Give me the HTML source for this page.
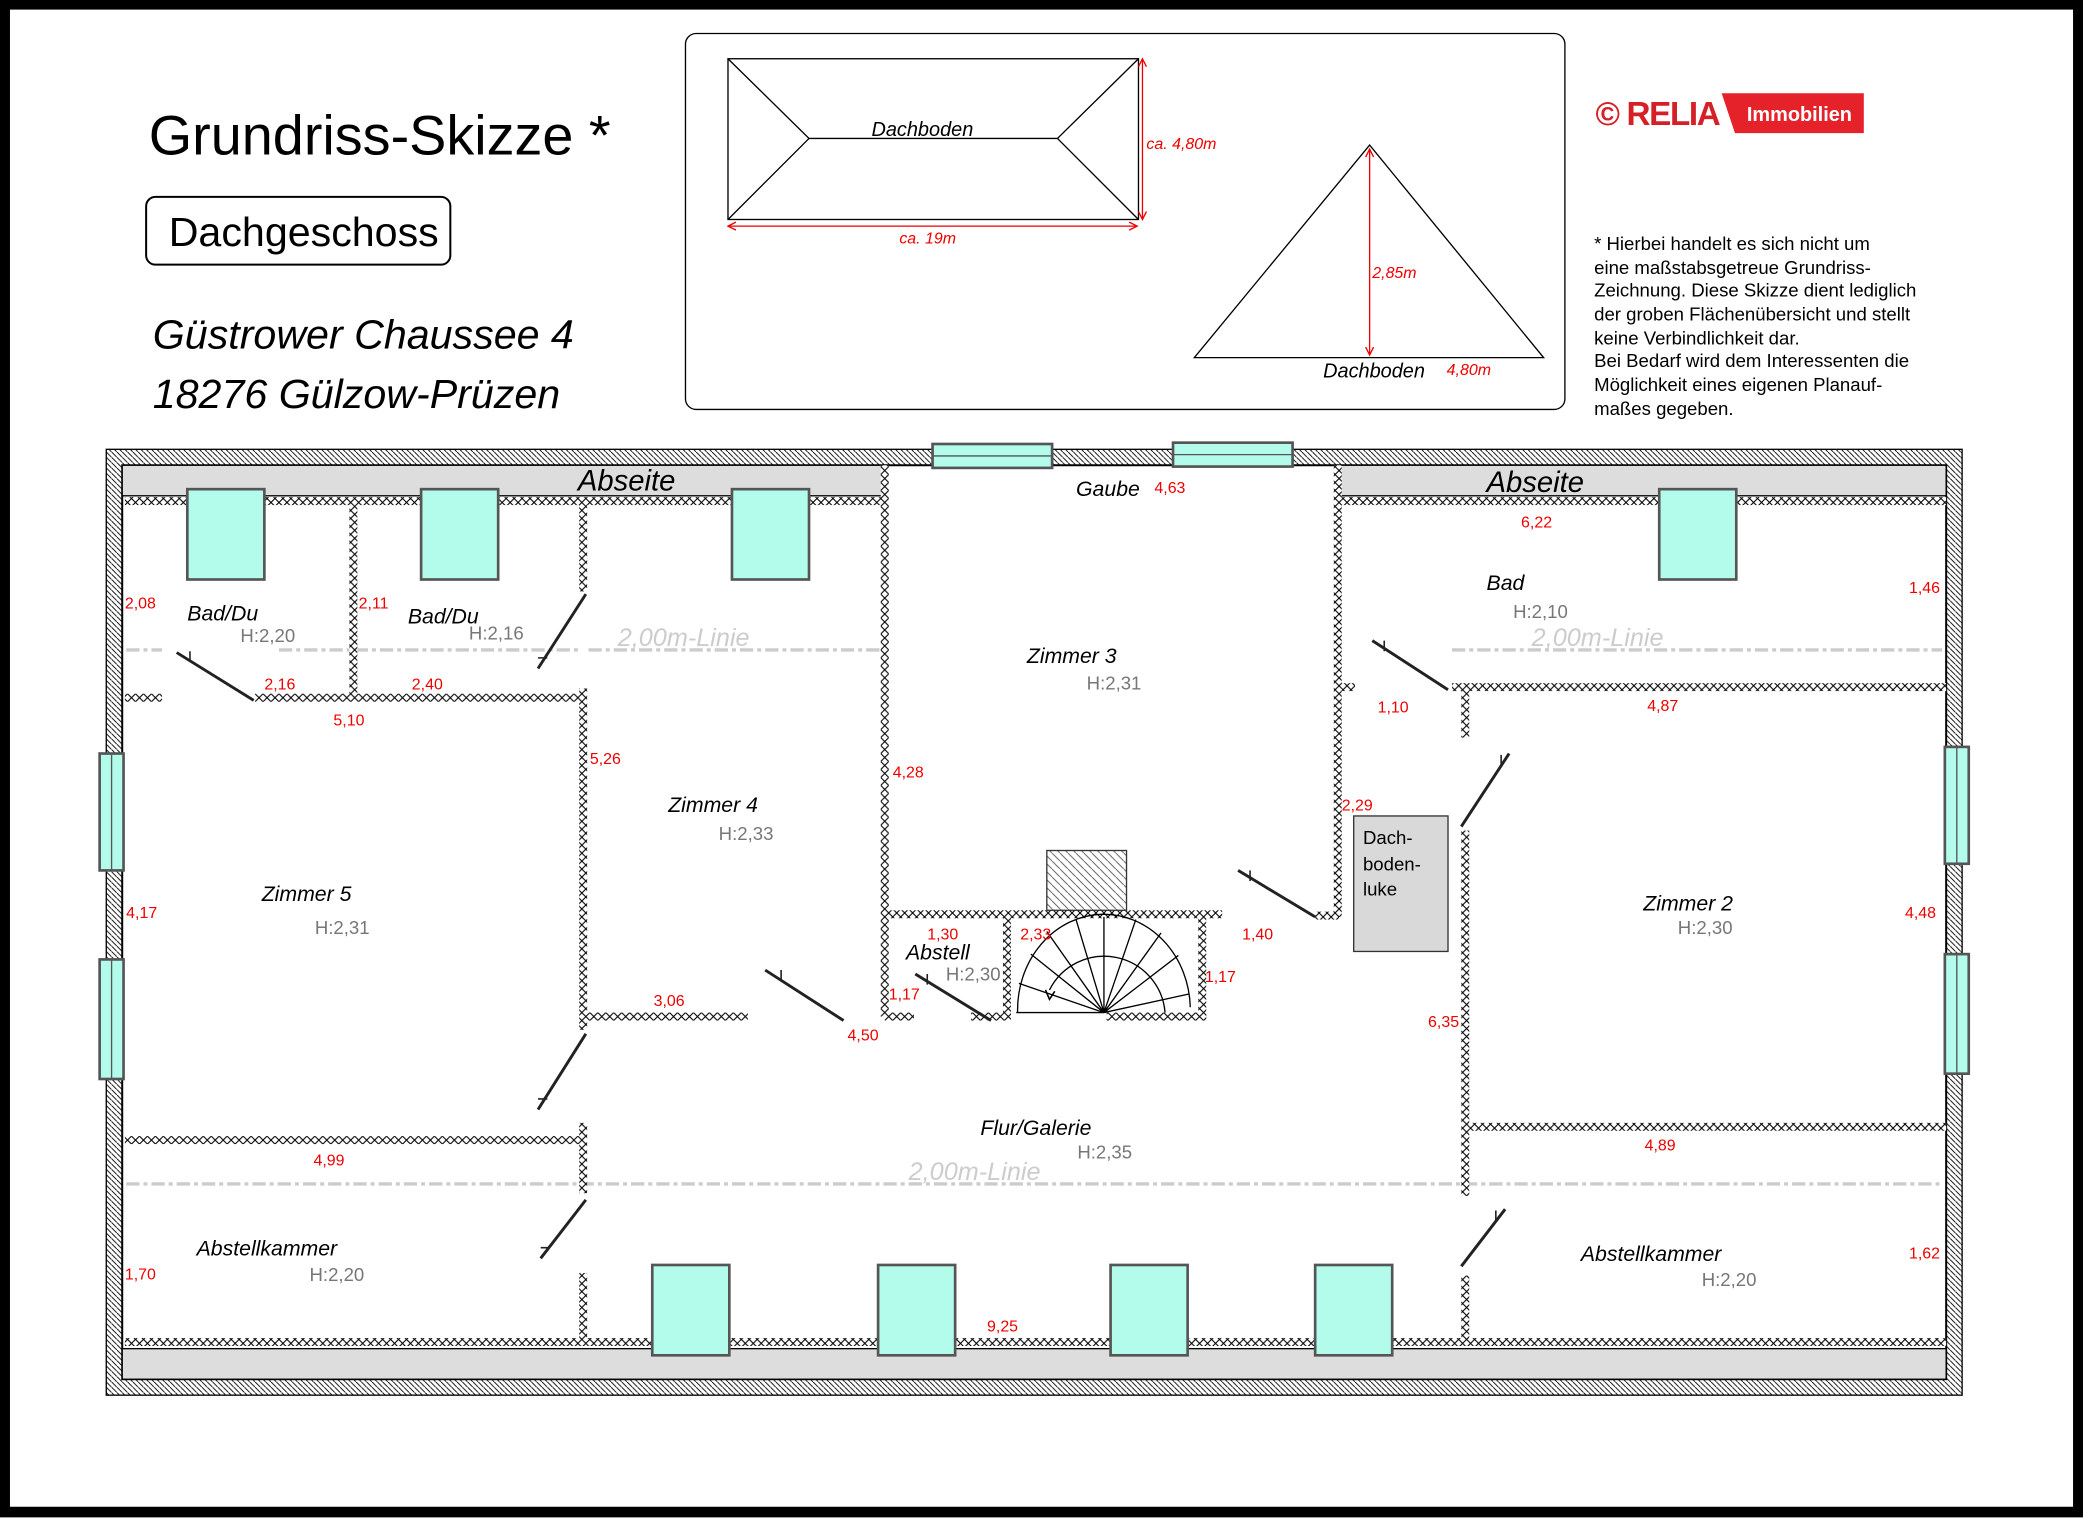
<!DOCTYPE html>
<html><head><meta charset="utf-8"><style>
html,body{margin:0;padding:0;background:#fff}
svg{display:block}
text{font-family:"Liberation Sans",sans-serif}
.r{fill:#e00;font-size:12px}
.rm{font-style:italic;font-size:16px;fill:#000}
.h{fill:#777;font-size:14px}
.lin{fill:#ccc;font-style:italic;font-size:19px}
</style></head><body>
<svg width="2083" height="1519" viewBox="0 0 1568 1143" xmlns="http://www.w3.org/2000/svg">
<defs>
<pattern id="xh" width="6" height="6" patternUnits="userSpaceOnUse"><rect width="6" height="6" fill="#fff"/><path d="M0,0L6,6M6,0L0,6" stroke="#000" stroke-width="0.8"/></pattern>
<pattern id="dh" width="4" height="4" patternUnits="userSpaceOnUse"><rect width="4" height="4" fill="#fff"/><path d="M-1,-1L5,5" stroke="#000" stroke-width="0.7"/></pattern>
<pattern id="ch" width="6" height="6" patternUnits="userSpaceOnUse"><path d="M-1,-1L7,7" stroke="#555" stroke-width="0.7"/></pattern>
</defs>
<rect x="0" y="0" width="1568" height="1143" fill="#fff"/>
<rect x="3.5" y="3" width="1561" height="1135" fill="none" stroke="#000" stroke-width="8"/>

<!-- titles -->
<text x="112" y="116" font-size="42">Grundriss-Skizze *</text>
<rect x="110" y="148" width="229" height="51" rx="7" fill="#fff" stroke="#000" stroke-width="1.5"/>
<text x="127" y="185" font-size="31">Dachgeschoss</text>
<text x="115" y="262" font-size="31" font-style="italic">Güstrower Chaussee 4</text>
<text x="115" y="307" font-size="31" font-style="italic">18276 Gülzow-Prüzen</text>

<!-- info box -->
<rect x="516" y="25" width="662" height="283" rx="8" fill="#fff" stroke="#000" stroke-width="1"/>
<rect x="548" y="44" width="309" height="121" fill="none" stroke="#000"/>
<path d="M548,44L609,104L796,104L857,44M548,165L609,104M796,104L857,165" fill="none" stroke="#000"/>
<text x="656" y="102" font-size="15" font-style="italic">Dachboden</text>
<path d="M860,45V164M548,170H856" stroke="#e00" stroke-width="1"/>
<path d="M857,50L860,44L863,50M857,159L860,165L863,159M554,167L548,170L554,173M850,167L856,170L850,173" fill="none" stroke="#e00"/>
<text x="863" y="112" class="r" font-style="italic">ca. 4,80m</text>
<text x="677" y="183" class="r" font-style="italic">ca. 19m</text>
<path d="M899,269L1031,109L1162,269Z" fill="none" stroke="#000"/>
<path d="M1031,112V267" stroke="#e00"/>
<path d="M1028,118L1031,112L1034,118M1028,261L1031,267L1034,261" fill="none" stroke="#e00"/>
<text x="1033" y="209" class="r" font-style="italic">2,85m</text>
<text x="996" y="284" font-size="15" font-style="italic">Dachboden</text>
<text x="1089" y="282" class="r" font-style="italic">4,80m</text>

<!-- logo -->
<text x="1201" y="94" font-size="25" font-weight="bold" fill="#d62027" letter-spacing="-1">© RELIA</text>
<path d="M1296,70H1403V100H1306Z" fill="#e5222a"/>
<text x="1315" y="91" font-size="15" font-weight="bold" fill="#fff">Immobilien</text>

<!-- note -->
<g font-size="14">
<text x="1200" y="188">* Hierbei handelt es sich nicht um</text>
<text x="1200" y="206">eine maßstabsgetreue Grundriss-</text>
<text x="1200" y="223">Zeichnung. Diese Skizze dient lediglich</text>
<text x="1200" y="241">der groben Flächenübersicht und stellt</text>
<text x="1200" y="259">keine Verbindlichkeit dar.</text>
<text x="1200" y="276">Bei Bedarf wird dem Interessenten die</text>
<text x="1200" y="294">Möglichkeit eines eigenen Planauf-</text>
<text x="1200" y="312">maßes gegeben.</text>
</g>

<!-- outer wall -->
<rect x="80" y="338" width="1397" height="712" fill="url(#dh)" stroke="#000"/>
<rect x="92" y="350" width="1373" height="688" fill="#fff" stroke="#000" stroke-width="1.5"/>
<rect x="92" y="350" width="573" height="23" fill="#ddd" stroke="#000"/>
<rect x="1008" y="350" width="457" height="23" fill="#ddd" stroke="#000"/>
<rect x="92" y="1015" width="1373" height="23" fill="#ddd" stroke="#000"/>
<text x="435" y="369" font-size="22" font-style="italic">Abseite</text>
<text x="1119" y="370" font-size="22" font-style="italic">Abseite</text>

<!-- 2.00 lines -->
<g stroke="#ccc" stroke-width="2.5" stroke-dasharray="10,3,3,3" fill="none">
<path d="M95,489H122M210,489H437M443,489H662M1093,489H1462M95,891H1462"/>
</g>
<text x="465" y="486" class="lin">2,00m-Linie</text>
<text x="1153" y="486" class="lin">2,00m-Linie</text>
<text x="684" y="888" class="lin">2,00m-Linie</text>

<!-- internal walls -->
<g fill="url(#xh)">
<rect x="94" y="374" width="571" height="6"/>
<rect x="1010" y="374" width="455" height="6"/>
<rect x="263" y="380" width="6" height="145"/>
<rect x="436" y="380" width="6" height="65"/>
<rect x="436" y="518" width="6" height="257"/>
<rect x="436" y="845" width="6" height="53"/>
<rect x="436" y="958" width="6" height="50"/>
<rect x="192" y="522" width="247" height="6"/>
<rect x="94" y="522" width="28" height="6"/>
<rect x="663" y="350" width="6" height="415"/>
<rect x="666" y="685" width="254" height="6"/>
<rect x="755" y="690" width="6" height="76"/>
<rect x="902" y="690" width="6" height="76"/>
<rect x="441" y="762" width="122" height="6"/>
<rect x="666" y="762" width="22" height="6"/>
<rect x="731" y="762" width="30" height="6"/>
<rect x="833" y="762" width="75" height="6"/>
<rect x="1004" y="350" width="6" height="340"/>
<rect x="990" y="686" width="18" height="6"/>
<rect x="1010" y="514" width="10" height="6"/>
<rect x="1093" y="514" width="372" height="6"/>
<rect x="1100" y="517" width="6" height="38"/>
<rect x="1100" y="625" width="6" height="275"/>
<rect x="1100" y="960" width="6" height="50"/>
<rect x="1106" y="845" width="359" height="6"/>
<rect x="94" y="855" width="345" height="6"/>
<rect x="94" y="1007" width="1371" height="6"/>
</g>

<!-- windows -->
<g fill="#b3fcec" stroke="#555" stroke-width="2">
<rect x="141" y="368" width="58" height="68"/>
<rect x="317" y="368" width="58" height="68"/>
<rect x="551" y="368" width="58" height="68"/>
<rect x="1249" y="368" width="58" height="68"/>
<rect x="491" y="952" width="58" height="68"/>
<rect x="661" y="952" width="58" height="68"/>
<rect x="836" y="952" width="58" height="68"/>
<rect x="990" y="952" width="58" height="68"/>
<rect x="702" y="334" width="90" height="18"/>
<rect x="883" y="333" width="90" height="18"/>
<rect x="75" y="567" width="18" height="88"/>
<rect x="75" y="722" width="18" height="90"/>
<rect x="1464" y="562" width="18" height="88"/>
<rect x="1464" y="718" width="18" height="90"/>
</g>
<g stroke="#555" stroke-width="1">
<path d="M702,343H792M883,342H973M84,567V655M84,722V812M1473,562V650M1473,718V808"/>
</g>

<!-- chimney, luke -->
<rect x="788" y="640" width="60" height="45" fill="url(#ch)" stroke="#333"/>
<rect x="1019" y="614" width="71" height="102" fill="#d9d9d9" stroke="#333"/>
<text x="1026" y="635" font-size="14">Dach-</text>
<text x="1026" y="655" font-size="14">boden-</text>
<text x="1026" y="674" font-size="14">luke</text>

<!-- stairs -->
<g fill="none" stroke="#000" stroke-width="1">
<path d="M766,762A65,72 0 0 1 896,758"/>
<path d="M765,762H831"/>
<path d="M831,762L767,740M831,762L776,718M831,762L788,701M831,762L810,692M831,762L831,690M831,762L855,692M831,762L874,702M831,762L887,719M831,762L895,748"/>
<path d="M877,762A46,46 0 0 0 790,745"/>
<path d="M787,745L790,752L794,746" stroke-width="1.2"/>
</g>

<!-- doors -->
<g stroke="#222" stroke-width="2.2" fill="none">
<path d="M133,491L191,527M405,503L441,447M405,835L441,778M407,947L441,903M576,730L635,768M689,733L746,768M932,655L990,690M1033,482L1090,519M1100,622L1136,567M1100,953L1133,910"/>
</g>
<g stroke="#222" stroke-width="1.2">
<path d="M143,490V498M405,495H412M405,827H412M407,939H414M588,730V738M698,733V741M941,655V663M1042,482V490M1130,568V576M1126,911V919"/>
</g>

<!-- room labels -->
<text x="141" y="467" class="rm">Bad/Du</text><text x="181" y="483" class="h">H:2,20</text>
<text x="307" y="469" class="rm">Bad/Du</text><text x="353" y="481" class="h">H:2,16</text>
<text x="1119" y="444" class="rm">Bad</text><text x="1139" y="465" class="h">H:2,10</text>
<text x="810" y="373" class="rm" font-size="15">Gaube</text>
<text x="773" y="499" class="rm">Zimmer 3</text><text x="818" y="519" class="h">H:2,31</text>
<text x="503" y="611" class="rm">Zimmer 4</text><text x="541" y="632" class="h">H:2,33</text>
<text x="197" y="678" class="rm">Zimmer 5</text><text x="237" y="703" class="h">H:2,31</text>
<text x="1237" y="685" class="rm">Zimmer 2</text><text x="1263" y="703" class="h">H:2,30</text>
<text x="682" y="722" class="rm">Abstell</text><text x="712" y="738" class="h">H:2,30</text>
<text x="738" y="854" class="rm">Flur/Galerie</text><text x="811" y="872" class="h">H:2,35</text>
<text x="148" y="945" class="rm">Abstellkammer</text><text x="233" y="964" class="h">H:2,20</text>
<text x="1190" y="949" class="rm">Abstellkammer</text><text x="1281" y="968" class="h">H:2,20</text>

<!-- dims -->
<g class="r">
<text x="94" y="458">2,08</text><text x="270" y="458">2,11</text>
<text x="199" y="519">2,16</text><text x="310" y="519">2,40</text>
<text x="251" y="546">5,10</text><text x="444" y="575">5,26</text>
<text x="672" y="585">4,28</text><text x="95" y="691">4,17</text>
<text x="492" y="757">3,06</text><text x="638" y="783">4,50</text>
<text x="698" y="707">1,30</text><text x="768" y="707">2,33</text>
<text x="669" y="752">1,17</text><text x="907" y="739">1,17</text>
<text x="935" y="707">1,40</text><text x="869" y="371">4,63</text>
<text x="1145" y="397">6,22</text><text x="1437" y="446">1,46</text>
<text x="1037" y="536">1,10</text><text x="1240" y="535">4,87</text>
<text x="1010" y="610">2,29</text><text x="1434" y="691">4,48</text>
<text x="1075" y="773">6,35</text><text x="1238" y="866">4,89</text>
<text x="236" y="877">4,99</text><text x="94" y="963">1,70</text>
<text x="743" y="1002">9,25</text><text x="1437" y="947">1,62</text>
</g>
</svg>
</body></html>
